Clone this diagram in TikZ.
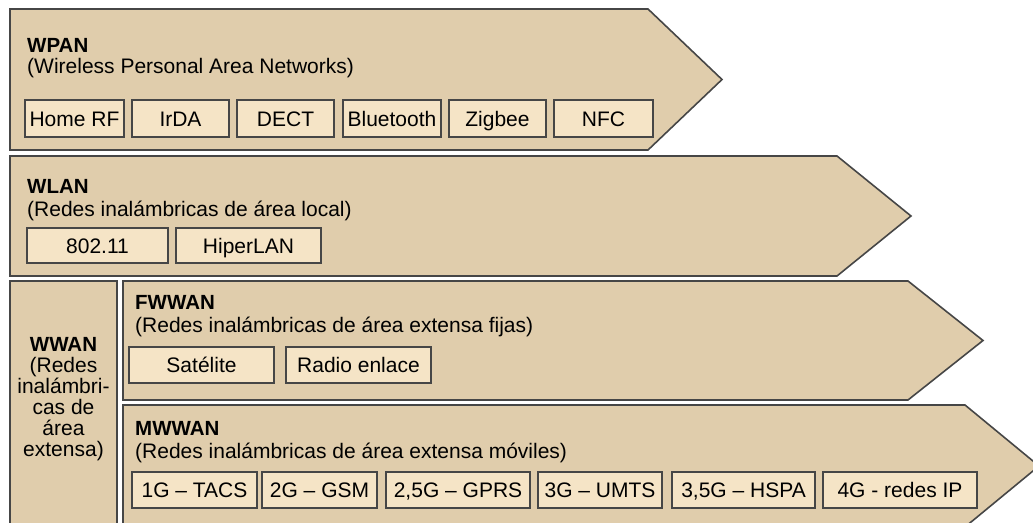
\documentclass[tikz,border=0pt]{standalone}
\usepackage{fontspec}
\setmainfont{Liberation Sans}
\definecolor{bandfill}{RGB}{224,205,172}
\definecolor{itemfill}{RGB}{245,228,198}
\definecolor{edgecol}{RGB}{70,70,70}
\begin{document}
\begin{tikzpicture}[x=1pt,y=-1pt,
  band/.style={fill=bandfill, draw=edgecol, line width=1.6pt, line join=miter},
  item/.style={fill=itemfill, draw=edgecol, line width=1.6pt, inner sep=0pt,
    text height=15pt, text depth=0pt, font=\fontsize{21}{24}\selectfont},
  ttl/.style={anchor=base west, inner sep=0pt, font=\fontsize{20.5}{24}\selectfont\bfseries},
  sub/.style={anchor=base west, inner sep=0pt, font=\fontsize{21}{24}\selectfont},
  wline/.style={anchor=base, inner sep=0pt, font=\fontsize{21}{24}\selectfont}]
\useasboundingbox (0,0) rectangle (1033,522);
\clip (0,0) rectangle (1033,522);

% bands
\path[band] (10,9) -- (648,9) -- (722,79.5) -- (648,150) -- (10,150) -- cycle;
\path[band] (10,156) -- (837,156) -- (911,216) -- (837,276) -- (10,276) -- cycle;
\path[band] (10,281) rectangle (117,545);
\path[band] (123,281) -- (908,281) -- (983,340.5) -- (908,400) -- (123,400) -- cycle;
\path[band] (123,405) -- (965,405) -- (1039,466) -- (965,527) -- (123,527) -- cycle;

% WPAN
\node[ttl] (wpan) at (27,52) {WPAN};
\node[sub] (wpans) at (27,73) {(Wireless Personal Area Networks)};
\node[item, minimum width=99pt, minimum height=37pt] (homerf) at (74.5,118.5) {Home RF};
\node[item, minimum width=97pt, minimum height=37pt] (irda) at (180.5,118.5) {IrDA};
\node[item, minimum width=97pt, minimum height=37pt] (dect) at (285.5,118.5) {DECT};
\node[item, minimum width=98pt, minimum height=37pt] (bt) at (392,118.5) {Bluetooth};
\node[item, minimum width=97pt, minimum height=37pt] (zig) at (497.5,118.5) {Zigbee};
\node[item, minimum width=99pt, minimum height=37pt] (nfc) at (603.5,118.5) {NFC};

% WLAN
\node[ttl] (wlan) at (27,193) {WLAN};
\node[sub] (wlans) at (27,216) {(Redes inalámbricas de área local)};
\node[item, minimum width=141pt, minimum height=35pt] (w80211) at (97.5,245.5) {802.11};
\node[item, minimum width=145pt, minimum height=35pt] (hiper) at (248.5,245.5) {HiperLAN};

% WWAN
\node[wline, font=\fontsize{20.5}{24}\selectfont\bfseries] (ww1) at (63.5,351) {WWAN};
\node[wline] (ww2) at (63.5,372) {(Redes};
\node[wline] (ww3) at (63.5,393) {inalámbri-};
\node[wline] (ww4) at (63.5,414) {cas de};
\node[wline] (ww5) at (63.5,435) {área};
\node[wline] (ww6) at (63.5,456) {extensa)};

% FWWAN
\node[ttl] (fwwan) at (135,309) {FWWAN};
\node[sub] (fwwans) at (135,332) {(Redes inalámbricas de área extensa fijas)};
\node[item, minimum width=145pt, minimum height=36pt] (sat) at (201.5,365) {Satélite};
\node[item, minimum width=145pt, minimum height=36pt] (radio) at (358.5,365) {Radio enlace};

% MWWAN
\node[ttl] (mwwan) at (135,435) {MWWAN};
\node[sub] (mwwans) at (135,458) {(Redes inalámbricas de área extensa móviles)};
\node[item, minimum width=125pt, minimum height=36pt] (g1) at (194.5,490) {1G – TACS};
\node[item, minimum width=115pt, minimum height=36pt] (g2) at (319.5,490) {2G – GSM};
\node[item, minimum width=144pt, minimum height=36pt] (g25) at (458,490) {2,5G – GPRS};
\node[item, minimum width=124pt, minimum height=36pt] (g3) at (600,490) {3G – UMTS};
\node[item, minimum width=143pt, minimum height=36pt] (g35) at (743.5,490) {3,5G – HSPA};
\node[item, minimum width=154pt, minimum height=36pt] (g4) at (900,490) {4G - redes IP};
\end{tikzpicture}
\end{document}
